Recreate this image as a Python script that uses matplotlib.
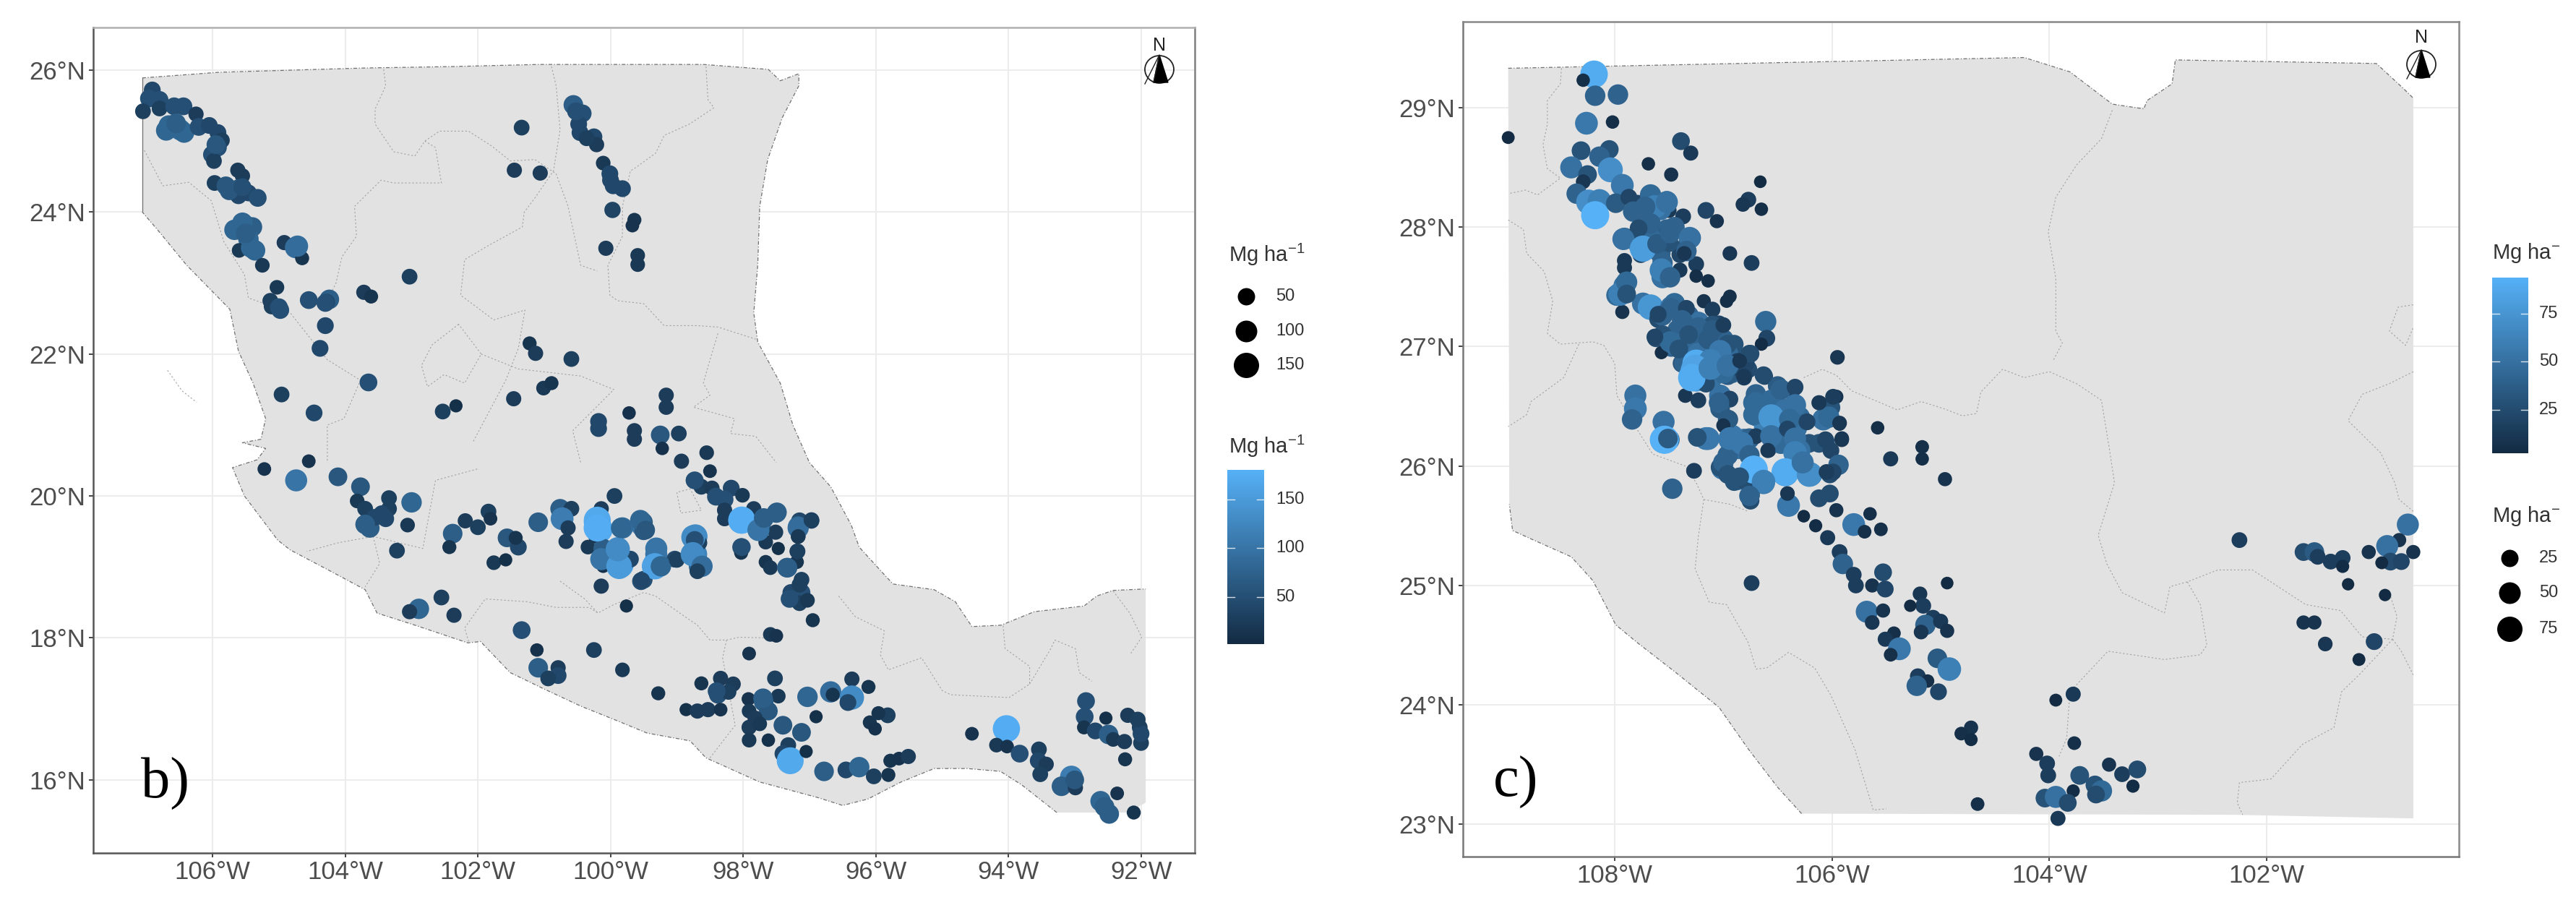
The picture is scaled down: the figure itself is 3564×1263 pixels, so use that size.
import numpy as np
import matplotlib
matplotlib.use('Agg')
import matplotlib.pyplot as plt
from matplotlib.colors import LinearSegmentedColormap
from matplotlib.patches import Ellipse, Polygon

# panel b sites
b_lon = [-106.91,-106.96,-106.80,-107.05,-106.80,-106.58,-106.44,-106.25,-106.66,-106.49,
 -106.43,-106.21,-106.05,-105.92,-105.86,-105.92,-106.01,-105.98,-105.62,-105.55,
 -105.97,-105.80,-105.61,-105.61,-105.46,-105.32,-105.49,-105.67,-105.40,-105.46,
 -105.36,-105.60,-105.25,-104.92,-104.75,-104.65,-103.03,-105.03,-105.13,-105.11,
 -104.98,-104.55,-104.24,-104.28,-103.72,-103.61,-104.30,-104.38,-103.65,-104.96,
 -104.47,-102.53,-102.33,-101.46,-101.22,-101.13,-100.59,-101.01,-100.89,-101.34,
 -101.45,-101.06,-100.56,-100.42,-100.48,-100.46,-100.25,-100.21,-100.36,-100.11,
 -100.01,-99.96,-99.82,-99.97,-99.64,-99.67,-100.07,-99.59,-99.59,-99.72,
 -100.18,-100.18,-99.64,-99.64,-99.16,-99.16,-99.25,-98.97,-99.22,-98.55,
 -98.93,-98.50,-98.74,-98.63,-98.47,-98.41,-98.18,-98.28,-98.01,-98.28,
 -98.28,-98.03,-97.84,-97.75,-97.69,-97.50,-97.51,-97.66,-97.47,-98.03,
 -98.03,-97.15,-96.97,-97.17,-97.17,-97.19,-97.19,-97.66,-97.59,-97.34,
 -97.12,-97.28,-97.12,-97.15,-97.03,-96.95,-97.59,-97.50,-97.91,-98.72,
 -98.72,-98.66,-98.66,-99.53,-99.50,-99.31,-99.31,-99.25,-99.50,-99.03,
 -105.22,-104.55,-104.74,-104.11,-103.77,-103.82,-103.70,-103.34,-103.34,-103.00,
 -103.63,-103.55,-103.39,-103.06,-103.22,-102.38,-102.43,-102.19,-102.00,-101.84,
 -101.81,-101.56,-101.39,-101.43,-101.76,-101.58,-101.09,-100.76,-100.59,-100.73,
 -100.64,-100.67,-99.94,-100.14,-100.20,-100.17,-100.23,-100.34,-100.11,-100.11,
 -99.89,-99.85,-99.70,-100.11,-99.82,-99.51,-100.14,-99.54,-99.76,-102.55,
 -102.89,-103.03,-102.36,-101.34,-101.11,-100.25,-99.82,-101.09,-100.79,-100.79,
 -100.94,-99.28,-98.63,-98.34,-98.15,-98.38,-98.22,-98.86,-98.69,-98.53,
 -98.34,-97.92,-97.52,-97.47,-97.69,-97.62,-97.91,-97.82,-97.91,-97.75,
 -97.91,-97.62,-97.40,-97.12,-97.03,-96.68,-96.65,-96.36,-96.11,-96.36,
 -96.42,-96.90,-95.82,-95.96,-96.09,-96.01,-97.32,-97.40,-97.29,-97.05,
 -96.78,-96.45,-96.25,-96.03,-95.81,-95.78,-95.65,-95.51,-94.55,-94.03,
 -94.18,-94.02,-93.83,-93.54,-93.55,-93.43,-93.52,-93.05,-93.20,-92.99,
 -92.61,-92.48,-92.36,-92.11,-92.83,-92.85,-92.86,-92.69,-92.53,-92.20,
 -92.49,-92.42,-92.25,-92.02,-92.00,-92.24,
 -100.20,-100.20,-100.14,-99.87,-99.89,-99.84,-99.55,-99.47,-99.31,-99.33,
 -99.24,-99.00,-99.53,-98.75,-98.73,-98.76,-98.62,-98.69,-98.73,-98.02,
 -97.49,-97.77,-97.69,-97.17,-97.17,-96.97,-98.02,-97.33,-97.18,
 -106.70,-106.55,-105.95,-105.75,-105.55,-105.55,-105.42,-105.50,-104.72,-104.30,
 -105.00,-103.70,-103.45,-98.40,-97.70,-93.00,-92.55,-92.00,-92.05,-100.52,
 -100.00,-97.30,-97.15]
b_lat = [25.72,25.60,25.58,25.42,25.46,25.49,25.49,25.38,25.22,25.16,
 25.12,25.20,25.22,25.12,25.01,24.91,24.81,24.72,24.59,24.51,
 24.41,24.37,24.33,24.23,24.27,24.20,23.81,23.75,23.79,23.62,
 23.46,23.46,23.25,23.57,23.50,23.35,23.09,22.94,22.75,22.67,
 22.62,22.76,22.77,22.73,22.87,22.81,22.40,22.08,21.60,21.43,
 21.17,21.19,21.27,21.37,22.15,22.01,21.93,21.52,21.59,25.19,
 24.59,24.55,25.51,25.39,25.24,25.12,25.06,24.95,25.04,24.69,
 24.54,24.37,24.33,24.03,23.89,23.81,23.49,23.39,23.26,21.17,
 21.05,20.95,20.92,20.80,21.42,21.25,20.86,20.88,20.67,20.61,
 20.49,20.35,20.22,20.13,20.11,19.99,20.11,19.95,20.01,19.80,
 19.68,19.65,19.82,19.55,19.68,19.76,19.49,19.35,19.26,19.28,
 19.20,19.65,19.65,19.57,19.43,19.22,19.07,19.07,18.99,18.99,
 18.82,18.64,18.64,18.49,18.53,18.25,18.05,18.03,17.78,19.43,
 19.18,19.01,19.34,19.59,19.51,19.26,19.07,19.01,18.82,19.11,
 20.38,20.49,20.22,20.27,20.13,19.93,19.82,19.97,19.82,19.91,
 19.55,19.70,19.68,19.59,19.23,19.47,19.28,19.65,19.56,19.78,
 19.68,19.41,19.28,19.41,19.06,19.10,19.63,19.82,19.82,19.68,
 19.55,19.36,20.00,19.82,19.63,19.53,19.43,19.28,19.26,19.11,
 19.24,19.03,19.11,19.01,19.55,19.63,18.73,18.80,18.45,18.57,
 18.41,18.37,18.32,18.11,17.83,17.83,17.55,17.58,17.58,17.47,
 17.43,17.22,17.36,17.43,17.35,17.20,17.24,16.99,16.97,16.99,
 16.99,17.14,17.43,17.18,17.10,16.97,16.97,16.87,16.74,16.79,
 16.56,16.56,16.77,16.67,17.17,17.24,17.20,17.42,17.31,17.16,
 17.09,16.89,16.91,16.94,16.81,16.72,16.49,16.37,16.27,16.40,
 16.12,16.14,16.18,16.05,16.07,16.27,16.30,16.33,16.65,16.72,
 16.49,16.47,16.37,16.43,16.27,16.22,16.08,16.04,15.91,15.89,
 15.70,15.52,15.81,15.54,17.11,16.89,16.74,16.69,16.87,16.91,
 16.64,16.57,16.54,16.74,16.52,16.29,
 19.66,19.55,19.11,19.01,19.25,19.55,19.66,19.52,19.18,19.01,
 19.01,19.10,18.81,19.42,19.38,19.18,19.01,18.94,20.22,19.66,
 19.77,19.52,19.69,19.55,19.43,19.66,19.28,18.99,19.22,
 25.15,25.25,24.95,24.30,24.35,23.85,23.50,23.70,23.52,22.72,
 22.66,19.60,19.75,17.25,17.15,16.00,15.62,16.65,16.85,25.42,
 24.45,18.55,18.75]
b_val = [40,50,50,30,30,50,50,25,80,90,
 80,50,40,40,30,50,50,30,25,25,
 30,60,60,40,40,50,70,80,70,80,
 80,20,20,25,90,15,30,20,30,30,
 50,50,70,40,25,15,40,40,50,30,
 40,30,8,25,15,25,30,20,15,30,
 25,25,70,50,40,40,40,25,30,20,
 40,40,40,35,15,12,25,20,20,10,
 40,40,25,25,25,25,60,30,10,20,
 25,12,40,30,25,50,40,50,20,25,
 25,150,25,100,70,70,25,20,8,50,
 15,40,30,80,20,20,15,15,20,70,
 30,40,50,30,20,15,20,12,12,130,
 120,90,30,100,60,100,130,80,50,40,
 12,12,100,60,60,20,30,30,30,80,
 70,40,40,20,30,70,15,25,30,30,
 12,60,40,15,20,8,70,70,30,110,
 25,25,30,25,170,170,15,20,70,70,
 120,160,40,10,90,70,25,50,8,30,
 80,25,25,50,10,30,20,70,25,40,
 30,15,15,25,25,50,30,8,25,25,
 12,12,30,20,70,60,20,25,25,20,
 20,10,60,60,80,90,15,25,15,130,
 40,8,30,15,15,10,30,40,170,8,
 70,40,80,30,15,15,12,25,12,175,
 20,12,50,30,40,25,30,110,70,25,
 80,70,12,15,50,50,15,40,8,25,
 70,20,25,30,30,15,
 170,175,100,150,130,80,80,60,100,160,
 80,30,40,130,50,130,90,30,50,175,
 70,100,70,90,20,30,50,70,30,
 80,70,60,60,50,80,80,70,90,50,
 50,70,40,50,70,60,70,40,30,50,
 40,50,30]

# panel c sites
c_lon = [-108.19,-108.29,-108.18,-107.97,-108.26,-108.02,-108.98,-107.39,-107.30,-108.31,
 -108.05,-107.69,-107.48,-108.40,-108.14,-108.04,-108.25,-108.29,-107.93,-106.66,
 -108.35,-106.77,-106.82,-106.65,-108.24,-108.14,-108.18,-107.99,-107.87,-107.79,
 -107.62,-107.52,-107.69,-107.50,-107.37,-107.16,-107.06,-107.91,-107.76,-107.52,
 -107.76,-107.76,-107.56,-107.30,-107.35,-107.33,-107.40,-106.94,-106.74,-107.91,
 -107.91,-107.56,-107.25,-107.40,-107.25,-107.14,-107.56,-107.51,-107.91,-107.98,
 -107.90,-107.93,-107.74,-107.67,-107.60,-107.48,-107.35,-107.18,-106.94,-106.97,
 -107.10,-107.04,-107.42,-107.25,-107.14,-107.62,-107.48,-107.57,-106.61,-106.60,
 -106.65,-105.95,-107.38,-107.28,-107.25,-107.04,-106.90,-106.84,-106.75,-106.77,
 -106.81,-106.62,-106.50,-107.11,-107.03,-107.35,-107.23,-106.94,-107.03,-106.72,
 -106.36,-106.57,-106.70,-106.36,-106.11,-105.96,-106.04,-106.02,-105.93,-105.58,
 -107.81,-107.81,-107.84,-107.55,-107.55,-107.50,-107.16,-106.95,-106.99,-106.94,
 -106.81,-106.57,-106.40,-106.33,-106.06,-105.91,-105.46,-105.17,-106.58,-105.17,
 -104.96,-107.27,-107.47,-107.01,-106.87,-106.72,-106.63,-106.75,-106.75,-106.43,
 -106.20,-106.40,-106.41,-106.12,-106.02,-106.02,-105.93,-105.96,-106.26,-106.15,
 -106.04,-105.65,-105.80,-105.70,-105.55,-105.93,-105.90,-105.80,-105.78,-105.53,
 -105.63,-105.51,-104.94,-106.74,-105.68,-105.53,-105.63,-105.19,-105.16,-105.28,
 -105.07,-105.14,-105.00,-104.94,-105.18,-105.43,-105.51,-105.38,-105.46,-105.03,
 -104.92,-105.21,-105.12,-105.22,-105.02,-104.72,-104.81,-104.72,-104.66,-103.94,
 -103.78,-103.77,-104.12,-104.02,-104.01,-103.72,-103.45,-103.33,-103.19,-103.23,
 -103.78,-103.58,-103.52,-103.57,-104.04,-103.94,-103.83,-103.92,-102.25,-101.66,
 -101.56,-101.53,-101.41,-101.30,-101.30,-101.25,-101.66,-101.56,-101.46,-101.15,
 -101.01,-100.91,-100.70,-100.78,-100.89,-101.06,-100.86,-100.76,-100.94,-100.65,
 -107.83,-107.67,-107.58,-107.45,-107.83,-107.67,-107.58,-107.50,-107.56,-107.45,
 -107.32,-107.41,-107.23,-107.10,-107.56,-107.45,-107.32,-107.18,-107.00,-106.90,
 -107.36,-107.23,-107.10,-106.96,-106.83,-107.05,-106.92,-106.70,-106.56,-106.43,
 -106.30,-106.52,-106.34,-106.21,-106.47,-106.61,-106.08,-106.01,-106.12,-106.01,
 -106.30,-106.87,-106.96,-107.03,-106.90,-106.79,-106.92,-106.76,-106.70,-107.12,
 -106.96,-106.83,
 -107.63,-107.52,-107.72,-107.78,-107.67,-107.78,-107.92,-107.74,-107.61,-107.49,
 -107.57,-107.49,-107.31,-107.34,-107.36,-107.95,-107.89,-107.89,-107.48,-107.60,
 -107.34,-107.38,-107.23,-107.10,-107.00,-107.32,-107.14,-107.49,-107.63,-107.41,
 -106.96,-107.03,-107.27,-107.25,-107.12,-107.16,-107.00,-106.87,-106.79,-106.76,
 -106.81,-107.26,-107.29,-107.12,-106.96,-106.85,-106.81,-107.04,-106.96,-107.00,
 -106.63,-106.70,-106.72,-106.47,-106.34,-106.34,-106.56,-106.39,-106.56,-106.41,
 -106.34,-106.23,-106.03,-105.93,-106.12,-105.99,-106.06,-105.91,-106.59,-106.34,
 -106.43,-106.21,-106.27,-105.94,-105.99,-106.05,-106.94,-106.83,-106.76,-106.72,
 -107.00,-106.96,-106.85,-106.63,-106.76,-107.14,-107.24,-107.54,-107.51]
c_lat = [29.28,29.23,29.10,29.11,28.87,28.88,28.75,28.72,28.62,28.64,
 28.65,28.53,28.44,28.50,28.59,28.48,28.44,28.38,28.35,28.38,
 28.28,28.23,28.19,28.15,28.21,28.22,28.10,28.20,28.25,28.20,
 28.21,28.22,28.14,28.14,28.09,28.14,28.05,27.91,28.00,27.98,
 27.85,27.77,27.90,27.91,27.83,27.79,27.77,27.78,27.70,27.72,
 27.66,27.70,27.69,27.64,27.59,27.55,27.58,27.58,27.51,27.43,
 27.44,27.29,27.36,27.33,27.23,27.33,27.30,27.38,27.42,27.38,
 27.31,27.19,27.14,27.12,27.06,27.07,27.00,26.95,27.21,27.07,
 27.02,26.91,26.86,26.81,26.73,26.89,26.94,26.88,26.94,26.81,
 26.74,26.75,26.67,26.74,26.59,26.59,26.55,26.56,26.48,26.53,
 26.64,26.42,26.42,26.49,26.53,26.58,26.48,26.40,26.35,26.32,
 26.59,26.48,26.39,26.37,26.22,26.22,26.23,26.39,26.33,26.22,
 26.22,26.27,26.25,26.32,26.20,26.22,26.06,26.16,26.13,26.06,
 25.89,25.96,25.81,25.98,25.89,25.97,25.86,25.76,25.71,25.94,
 25.93,25.67,25.77,25.73,25.77,25.93,26.00,25.63,25.58,25.50,
 25.40,25.60,25.51,25.45,25.47,25.28,25.18,25.09,25.00,25.11,
 25.00,24.97,25.02,25.02,24.78,24.79,24.69,24.93,24.83,24.83,
 24.73,24.67,24.70,24.62,24.61,24.60,24.55,24.47,24.42,24.39,
 24.30,24.24,24.20,24.16,24.11,23.81,23.76,23.71,23.17,24.04,
 24.09,23.68,23.59,23.51,23.41,23.41,23.50,23.42,23.46,23.32,
 23.28,23.33,23.28,23.25,23.22,23.23,23.18,23.05,25.38,25.28,
 25.28,25.24,25.20,25.23,25.16,25.01,24.69,24.69,24.51,24.38,
 24.53,24.92,25.51,25.38,25.33,25.28,25.20,25.20,25.19,25.28,
 28.13,28.27,28.15,28.00,27.91,27.91,27.78,27.87,27.26,27.36,
 27.26,27.14,27.20,27.18,27.10,27.02,27.00,27.04,27.06,27.02,
 26.86,26.94,26.98,26.94,26.84,26.78,26.78,26.60,26.55,26.47,
 26.41,26.35,26.31,26.19,26.19,26.33,26.39,26.49,26.19,26.13,
 26.13,26.15,26.09,25.99,25.87,25.87,26.25,26.23,26.25,26.74,
 26.76,26.80,
 28.17,28.21,28.17,28.13,28.03,27.99,27.90,27.82,27.86,27.95,
 27.64,27.58,27.91,27.80,27.78,27.44,27.54,27.44,27.32,27.27,
 27.32,27.22,27.16,27.14,27.18,27.10,27.06,27.04,27.08,26.98,
 27.02,26.96,26.80,26.86,26.88,26.69,26.78,26.88,26.86,26.94,
 26.76,26.82,26.74,26.82,26.84,26.88,26.75,26.53,26.39,26.34,
 26.76,26.53,26.43,26.64,26.66,26.51,26.41,26.39,26.25,26.31,
 26.23,26.37,26.41,26.36,26.53,26.58,26.22,26.23,26.13,26.11,
 25.95,25.93,26.03,26.01,25.95,25.95,26.23,26.19,26.09,25.97,
 26.03,25.93,25.91,25.87,25.75,26.23,26.24,26.22,26.23]
c_val = [90,5,40,40,55,5,3,25,12,30,
 30,5,8,50,40,70,30,10,55,2,
 40,15,10,5,70,60,95,35,20,20,
 45,35,40,12,15,20,8,40,30,40,
 65,20,35,40,30,8,20,10,15,12,
 12,40,15,12,5,5,50,20,50,45,
 30,8,50,75,25,50,30,8,6,5,
 15,20,40,45,50,25,40,5,45,20,
 4,10,30,80,75,55,35,20,25,25,
 15,20,35,50,50,10,15,20,35,45,
 15,50,40,55,8,8,12,30,4,5,
 50,55,40,50,90,45,55,30,8,55,
 50,45,55,50,30,10,12,6,8,5,
 8,15,40,50,50,80,55,30,25,80,
 65,55,10,25,25,25,15,8,2,4,
 12,5,55,6,6,15,40,15,15,25,
 8,20,2,15,50,8,10,10,15,1,
 15,40,12,8,10,6,12,55,6,35,
 60,15,5,40,20,8,6,4,6,3,
 12,6,8,15,15,30,8,15,25,4,
 4,30,45,25,30,50,25,12,15,25,
 35,15,15,15,4,1,8,8,10,3,
 20,1,50,8,50,8,25,20,3,8,
 40,45,50,40,30,45,40,30,40,45,
 40,40,50,30,30,50,45,40,40,30,
 40,50,50,45,25,50,40,40,45,50,
 45,50,50,30,45,60,50,30,30,20,
 50,50,40,30,30,25,55,40,15,50,
 35,20,
 60,50,40,40,40,25,50,80,35,40,
 60,40,50,40,10,60,45,30,40,20,
 20,40,40,35,15,30,35,45,20,30,
 30,55,85,90,60,25,45,15,20,25,
 20,85,90,60,50,10,12,40,35,8,
 25,45,45,40,20,50,75,45,50,20,
 50,20,45,10,12,15,20,10,12,60,
 90,70,50,40,20,15,55,55,40,95,
 40,30,30,60,40,55,30,95,35]

# map outlines, lon then lat
b_out_lon = [-107.06,-105.9,-104.8,-103.70,-102.4,-101.08,-98.6,-97.62,-97.44,-97.16,-97.16,-97.41,-97.63,-97.75,-97.78,-97.84,-97.78,-97.44,-97.25,-97.0,-96.68,-96.37,-96.25,-95.87,-95.74,-95.12,-94.8,-94.55,-94.11,-93.61,-92.86,-92.67,-92.42,-91.93,-91.93,-92.2,-93.27,-93.8,-94.12,-94.62,-95.12,-95.62,-96.12,-96.5,-96.87,-97.75,-98.56,-98.8,-99.45,-99.89,-100.45,-101.0,-101.51,-101.96,-102.15,-102.95,-103.52,-103.7,-104.2,-104.83,-105.02,-105.52,-105.7,-105.33,-105.2,-105.55,-105.27,-105.2,-105.39,-105.61,-105.74,-106.39,-106.83,-107.06,-107.06]
b_out_lat = [25.89,25.97,26.0,26.03,26.05,26.08,26.08,26.01,25.85,25.95,25.78,25.33,24.74,24.08,23.25,22.58,22.17,21.59,21.0,20.47,20.13,19.59,19.28,18.89,18.76,18.68,18.51,18.16,18.18,18.37,18.45,18.59,18.67,18.69,15.68,15.54,15.54,15.93,16.12,16.16,16.16,15.97,15.73,15.64,15.75,15.97,16.31,16.55,16.66,16.83,17.04,17.28,17.51,17.95,17.93,18.18,18.35,18.68,18.93,19.24,19.38,20.0,20.4,20.51,20.67,20.75,20.8,21.09,21.59,22.04,22.63,23.25,23.75,24.0,25.89]
c_out_lon = [-108.98,-104.23,-103.81,-103.42,-103.13,-103.1,-102.87,-102.84,-100.99,-100.74,-100.65,-100.65,-102.29,-106.28,-106.5,-106.77,-107.04,-107.45,-107.79,-107.99,-108.2,-108.4,-108.77,-108.94,-108.97,-108.98]
c_out_lat = [29.33,29.42,29.3,29.03,28.99,29.06,29.2,29.4,29.37,29.16,29.08,23.05,23.08,23.09,23.31,23.63,23.98,24.28,24.52,24.67,25.04,25.24,25.39,25.46,25.68,29.33]

# state borders
b_borders = [
 ([-103.42,-103.39,-103.55,-103.55,-103.27,-102.95,-102.8,-102.58,-102.14,-101.79,-101.51,-101.14,-100.82,-100.64,-100.45,-100.2],
  [26.01,25.78,25.45,25.24,24.85,24.79,25.0,25.14,25.14,24.93,24.72,24.74,24.54,24.08,23.25,23.17]),
 ([-100.89,-100.82,-100.76,-100.86,-101.14,-101.3,-101.33,-101.82,-102.2,-102.26,-101.76,-101.29,-101.39,-101.58,-102.08],
  [26.05,25.78,25.16,24.58,24.2,24.0,23.79,23.54,23.33,22.83,22.48,22.62,22.08,21.63,20.75]),
 ([-107.03,-106.75,-106.36,-106.02,-105.83,-105.52,-105.46,-104.83,-104.27,-103.77,-104.02,-104.27,-104.27],
  [24.87,24.37,24.42,24.16,23.58,23.12,22.79,22.58,21.92,21.63,21.09,21.0,20.47]),
 ([-102.8,-102.64,-102.55,-103.27,-103.46,-103.86,-103.83,-104.05,-104.14,-104.27],
  [25.0,24.91,24.41,24.41,24.45,24.08,23.66,23.37,23.0,22.75]),
 ([-102.29,-102.69,-102.85,-102.76,-102.51,-102.2,-101.95,-102.29],
  [22.42,22.13,21.84,21.54,21.71,21.59,22.0,22.42]),
 ([-101.95,-101.39,-100.45,-99.95,-100.57,-100.45],[22.0,21.79,21.69,21.5,20.92,20.47]),
 ([-99.82,-100.04,-100.01,-99.89,-99.5,-99.19,-98.69,-98.38,-97.81],[23.66,23.25,22.83,22.75,22.71,22.4,22.4,22.38,22.21]),
 ([-98.56,-98.53,-98.44,-98.81,-99.19,-99.32,-99.63,-99.7,-99.82,-99.82],[26.05,25.58,25.47,25.24,25.08,24.83,24.62,24.58,24.08,23.66]),
 ([-98.38,-98.5,-98.6,-98.5,-98.75,-98.13,-98.19,-97.81,-97.5],[22.29,21.92,21.59,21.42,21.25,21.09,20.88,20.84,20.47]),
 ([-102.01,-102.64,-102.83,-103.58,-104.11,-104.58],[20.38,20.22,19.26,19.43,19.34,19.22]),
 ([-103.58,-103.48,-103.7],[19.43,19.05,18.72]),
 ([-102.14,-102.2,-101.89,-101.26,-100.82,-100.32,-100.19,-99.95,-99.5,-99.32,-98.94,-98.69,-98.5,-98.25,-98.06,-97.62],
  [17.95,18.14,18.55,18.51,18.43,18.43,18.35,18.47,18.64,18.59,18.34,18.18,17.97,17.97,18.01,18.0]),
 ([-98.5,-98.12,-98.31,-98.25],[16.31,16.77,17.72,17.97]),
 ([-96.56,-96.31,-95.87,-95.93,-95.81,-95.31,-95.0,-94.87,-93.99,-93.68,-93.68,-94.05,-94.08],
  [18.59,18.3,18.1,17.76,17.55,17.72,17.26,17.2,17.16,17.35,17.6,17.85,18.18]),
 ([-93.68,-93.36,-93.3,-92.99,-92.93,-92.74],[17.35,17.85,17.97,17.85,17.51,17.39]),
 ([-92.42,-92.17,-91.99,-92.17],[18.66,18.35,18.01,17.76]),
 ([-99.0,-98.94,-98.63,-98.8,-99.0],[20.05,19.76,19.8,20.1,20.05]),
 ([-100.76,-100.39,-100.19],[18.8,18.55,18.35]),
 ([-106.68,-106.46,-106.24],[21.77,21.48,21.32]),
]
c_borders = [
 ([-108.49,-108.5,-108.62,-108.62,-108.66,-108.62,-108.5,-108.71,-108.82,-108.98],
  [29.33,29.2,29.06,28.86,28.69,28.49,28.41,28.27,28.31,28.28]),
 ([-108.98,-108.84,-108.81,-108.65,-108.57,-108.62,-108.5,-108.2,-108.1,-108.0,-107.98,-107.79,-107.65,-107.35,-107.25,-107.18,-107.23,-107.26,-107.13,-106.97,-106.77,-106.7,-106.6,-106.4,-106.16,-106.01,-105.79,-105.65,-105.62,-105.5],
  [28.06,27.98,27.78,27.63,27.38,27.11,27.02,27.04,27.01,26.86,26.59,26.3,26.1,26.0,25.86,25.72,25.41,25.14,24.86,24.84,24.52,24.3,24.31,24.44,24.31,24.08,23.63,23.21,23.12,23.13]),
 ([-108.33,-108.47,-108.77,-108.81,-108.98],[27.02,26.74,26.54,26.43,26.33]),
 ([-107.18,-106.94,-106.77],[25.72,25.68,25.62]),
 ([-106.26,-106.09,-105.96,-105.82,-105.58,-105.4,-105.18,-104.97,-104.8,-104.67,-104.63,-104.43,-104.23,-104.0,-103.75,-103.52,-103.45,-103.4,-103.55,-103.47,-103.33,-102.94,-102.89,-102.73,-102.45,-102.13,-101.64,-101.32,-101.12,-100.84,-100.8,-100.87],
  [26.74,26.81,26.76,26.63,26.54,26.47,26.54,26.48,26.42,26.44,26.62,26.81,26.74,26.79,26.69,26.55,26.16,25.86,25.42,25.18,24.94,24.77,24.99,25.03,25.13,25.13,24.84,24.79,24.57,24.55,24.74,24.94]),
 ([-102.73,-102.61,-102.55,-102.61,-102.94,-103.46,-103.81,-103.84,-103.91],[25.03,24.84,24.5,24.42,24.38,24.45,24.11,23.72,23.57]),
 ([-103.96,-103.88,-103.94,-103.94,-104.01,-103.94,-103.75,-103.52,-103.42],[26.89,27.03,27.13,27.57,27.96,28.25,28.52,28.74,28.98]),
 ([-100.65,-100.87,-101.12,-101.25,-100.95,-100.82,-100.78,-100.65],[26.79,26.69,26.6,26.38,26.11,25.86,25.72,25.62]),
 ([-100.84,-100.76,-100.65],[24.55,24.45,24.25]),
 ([-100.84,-101.15,-101.31,-101.38,-101.67,-101.96,-102.25,-102.27,-102.22],[24.55,24.25,24.11,23.81,23.67,23.38,23.35,23.18,23.08]),
 ([-100.65,-100.79,-100.87,-100.72,-100.65],[27.35,27.33,27.13,27.01,27.16]),
]

b_xticks = [-106,-104,-102,-100,-98,-96,-94,-92]
b_yticks = [16,18,20,22,24,26]
c_xticks = [-108,-106,-104,-102]
c_yticks = [23,24,25,26,27,28,29]
b_size_legend = [50,100,150]
b_color_ticks = [150,100,50]
c_size_legend = [25,50,75]
c_color_ticks = [75,50,25]

W, H = 3564, 1263
plt.rcParams['font.family'] = ['Liberation Sans', 'DejaVu Sans']
plt.rcParams['mathtext.default'] = 'regular'
cmap = LinearSegmentedColormap.from_list('gg', ['#132B43', '#56B1F7'])
fig = plt.figure(figsize=(W/100, H/100), dpi=100, facecolor='white')


def px_axes(x0, x1, y0, y1):
    a = fig.add_axes([x0/W, 1-y1/H, (x1-x0)/W, (y1-y0)/H])
    return a


def panel(box, xlim, ylim, xticks, yticks, out_lon, out_lat, borders, lon, lat, val, vmin, vmax, k, spine_cols, edges):
    ax = px_axes(*box)
    ax.set_xlim(xlim)
    ax.set_ylim(ylim)
    ax.set_xticks(xticks)
    ax.set_yticks(yticks)
    ax.set_xticklabels([f'{abs(t)}°W' for t in xticks])
    ax.set_yticklabels([f'{t}°N' for t in yticks])
    ax.tick_params(length=4.5, width=1.4, color='#444444', labelsize=25, labelcolor='#4d4d4d', pad=3)
    ax.grid(color='#ececec', lw=1.5)
    ax.set_axisbelow(True)
    for s, c in spine_cols.items():
        ax.spines[s].set_color(c)
        ax.spines[s].set_linewidth(1.8)
    ax.add_patch(Polygon(np.column_stack([out_lon, out_lat]), fc='#e2e2e2', ec='none', zorder=1))
    for i0, i1, st in edges:
        ax.plot(out_lon[i0:i1], out_lat[i0:i1], color='#707070', lw=0.9, ls=st, zorder=2)
    for bx, by in borders:
        ax.plot(bx, by, color='#a2a2a2', lw=0.8, ls=(0, (2, 2.5)), zorder=2)
    v = np.array(val, dtype=float)
    d = np.sqrt(280 + k*v)
    ax.scatter(lon, lat, s=(0.72*d)**2, c=v, cmap=cmap, vmin=vmin, vmax=vmax, linewidths=0, zorder=3)
    return ax


dash = (0, (4, 2, 1, 2))
panel((129, 1653, 37.5, 1180), (-107.80, -91.19), (14.97, 26.606), b_xticks, b_yticks,
      b_out_lon, b_out_lat, b_borders, b_lon, b_lat, b_val, 1.5, 180.5, 6.5,
      {'left': '#555555', 'bottom': '#555555', 'top': '#b0b0b0', 'right': '#808080'},
      [(0, 34, dash), (36, 74, dash), (73, 75, '-')])
panel((2024, 3402, 30, 1185), (-109.397, -100.23), (22.73, 29.72), c_xticks, c_yticks,
      c_out_lon, c_out_lat, c_borders, c_lon, c_lat, c_val, 2.3, 93.6, 13,
      {'left': '#777777', 'bottom': '#777777', 'top': '#888888', 'right': '#888888'},
      [(0, 11, dash), (13, 25, dash)])

# overlay in figure pixels for legends, labels and north arrows
ov = px_axes(0, W, 0, H)
ov.set_xlim(0, W)
ov.set_ylim(H, 0)
ov.axis('off')
ov.patch.set_alpha(0)
ov.text(195, 1084, 'b)', family='Liberation Serif', fontsize=58, va='center', ha='left', color='black')
ov.text(2066, 1082, 'c)', family='Liberation Serif', fontsize=58, va='center', ha='left', color='black')


def north(cx, cy, ny):
    ov.text(cx, ny, 'N', fontsize=18, ha='center', va='center', color='#222222')
    ov.add_patch(Ellipse((cx, cy), 40, 38, fc='none', ec='#222222', lw=1.3))
    ov.fill([cx-8, cx, cx+12], [cy+18, cy-20, cy+18], color='black')
    ov.plot([cx-20, cx, cx-8], [cy+20, cy-20, cy+18], color='#222222', lw=1)


north(1604, 96, 63)
north(3350, 89, 52)

# legends of panel b
ov.text(1700, 352, r'Mg ha$^{-1}$', fontsize=21, va='center', color='#333333')
for v, y in zip(b_size_legend, [410, 458, 505]):
    ov.scatter([1724], [y], s=(0.72*np.sqrt(250+6.5*v))**2, color='black', linewidths=0)
    ov.text(1765, y, str(v), fontsize=17, va='center', color='#333333')
ov.text(1700, 617, r'Mg ha$^{-1}$', fontsize=21, va='center', color='#333333')
cb = px_axes(1698, 1749, 650, 891)
cb.imshow(np.linspace(1, 0, 256).reshape(-1, 1), cmap=cmap, aspect='auto', extent=[0, 1, 1.5, 180.5])
cb.set_xticks([])
cb.set_yticks([])
for s in cb.spines.values():
    s.set_visible(False)
for t in b_color_ticks:
    cb.plot([0, 0.2], [t, t], color='white', lw=1, alpha=0.8)
    cb.plot([0.8, 1], [t, t], color='white', lw=1, alpha=0.8)
    ov.text(1765, 650 + (180.5-t)/179*241, str(t), fontsize=17, va='center', color='#333333')

# legends of panel c, cut at the edge of the crop
lg = px_axes(3440, 3543, 0, H)
lg.set_xlim(3440, 3543)
lg.set_ylim(H, 0)
lg.axis('off')
lg.text(3448, 349, r'Mg ha$^{-1}$', fontsize=21, va='center', color='#333333', clip_on=True)
lg.text(3448, 713, r'Mg ha$^{-1}$', fontsize=21, va='center', color='#333333', clip_on=True)
for v, y in zip(c_size_legend, [772, 820, 870]):
    lg.scatter([3472.5], [y], s=(0.72*np.sqrt(250+13*v))**2, color='black', linewidths=0)
    lg.text(3513, y, str(v), fontsize=17, va='center', color='#333333', clip_on=True)
cc = px_axes(3448, 3498, 384, 627)
cc.imshow(np.linspace(1, 0, 256).reshape(-1, 1), cmap=cmap, aspect='auto', extent=[0, 1, 2.3, 93.6])
cc.set_xticks([])
cc.set_yticks([])
for s in cc.spines.values():
    s.set_visible(False)
for t in c_color_ticks:
    cc.plot([0, 0.2], [t, t], color='white', lw=1, alpha=0.8)
    cc.plot([0.8, 1], [t, t], color='white', lw=1, alpha=0.8)
    lg.text(3513, 384 + (93.6-t)/91.3*243, str(t), fontsize=17, va='center', color='#333333', clip_on=True)

fig.savefig('out.png', dpi=100)
